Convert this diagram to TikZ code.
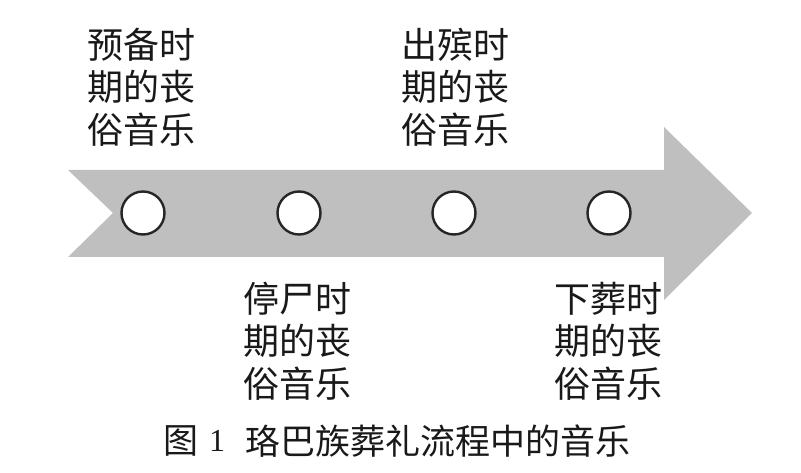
\documentclass[tikz,border=0pt]{standalone}
\usepackage{fontspec}
\newfontfamily\cjk{Noto Sans CJK SC}
\newfontfamily\capnum{Liberation Serif}
\tikzset{
  dot/.style={circle, draw=black!85, line width=2.4pt, fill=white, minimum size=43pt, inner sep=0pt},
  lab/.style={align=center, inner sep=0pt, font=\cjk\fontsize{36}{42.5}\selectfont, text=black!90},
  captext/.style={inner sep=0pt, font=\cjk\fontsize{35}{40}\selectfont, text=black!90}
}
\begin{document}
\begin{tikzpicture}[x=1pt,y=-1pt]
\useasboundingbox (0,0) rectangle (801,473);
\fill[fill=black!25] (68,170) -- (664,170) -- (664,127) -- (752,213) -- (664,300) -- (664,257) -- (68,257) -- (113,213) -- cycle;
\node[dot] (c1) at (143,213) {};
\node[dot] (c2) at (299,213) {};
\node[dot] (c3) at (454,213) {};
\node[dot] (c4) at (609,213) {};
\node[lab] (l1) at (141.5,87) {预备时\\期的丧\\俗音乐};
\node[lab] (l3) at (455.5,87) {出殡时\\期的丧\\俗音乐};
\node[lab] (l2) at (297.5,341) {停尸时\\期的丧\\俗音乐};
\node[lab] (l4) at (608.5,341) {下葬时\\期的丧\\俗音乐};
\node[captext, anchor=west] (t1) at (163,441) {图};
\node[font=\capnum\fontsize{32}{36}\selectfont, text=black!90, inner sep=0pt] (t2) at (217,441) {1};
\node[captext, anchor=west] (t3) at (245,441) {珞巴族葬礼流程中的音乐};
\end{tikzpicture}
\end{document}
